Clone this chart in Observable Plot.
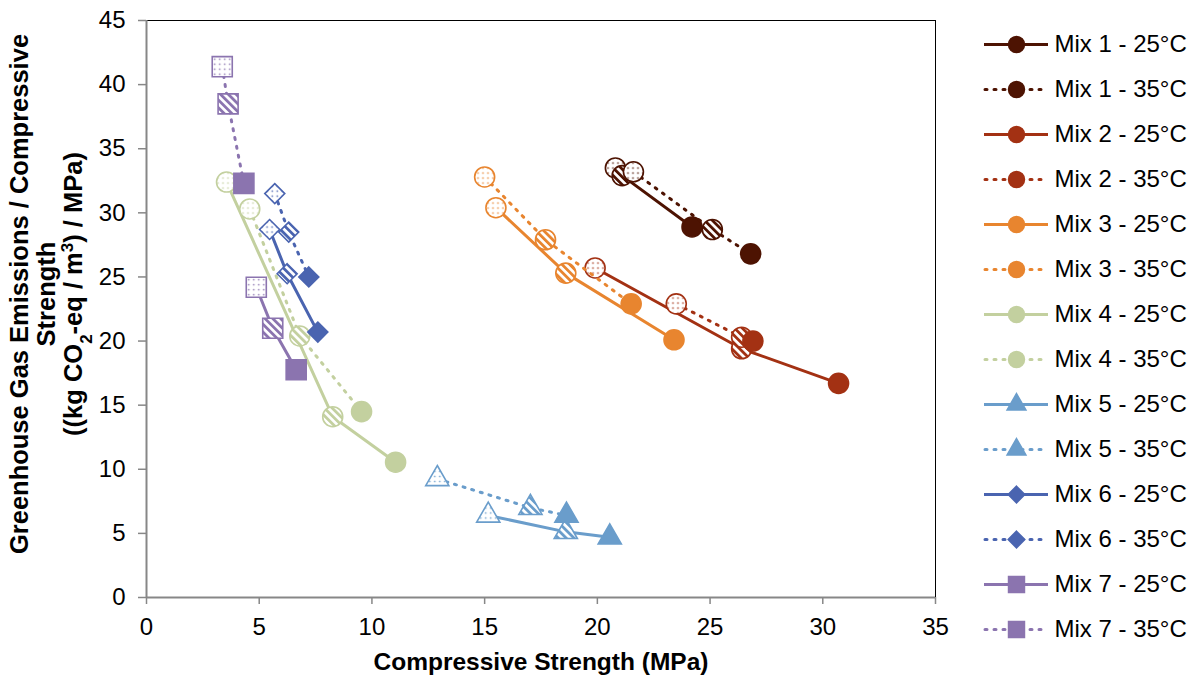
<!DOCTYPE html>
<html><head><meta charset="utf-8">
<script src="https://cdn.jsdelivr.net/npm/d3@7"></script>
<script src="https://cdn.jsdelivr.net/npm/@observablehq/plot@0.6"></script>
<style>
body{margin:0;background:#fff;}
#wrap{position:relative;width:1199px;height:679px;background:#fff;}
#wrap svg{position:absolute;top:0;}
</style></head><body><div id="wrap"></div>
<script>
// ---- data ----
const seriesNames = [
  "Mix 1 - 25°C","Mix 1 - 35°C","Mix 2 - 25°C","Mix 2 - 35°C",
  "Mix 3 - 25°C","Mix 3 - 35°C","Mix 4 - 25°C","Mix 4 - 35°C",
  "Mix 5 - 25°C","Mix 5 - 35°C","Mix 6 - 25°C","Mix 6 - 35°C",
  "Mix 7 - 25°C","Mix 7 - 35°C"
];
// compressive strength (MPa), three ages per series
const strengthMPa = [
  [20.8, 21.1, 24.2], [21.6, 25.1, 26.8],
  [19.9, 26.4, 30.7], [23.5, 26.4, 26.9],
  [15.5, 18.6, 23.4], [15.0, 17.7, 21.5],
  [3.55, 8.26, 11.05], [4.58, 6.8, 9.54],
  [15.16, 18.6, 20.55], [12.9, 17.03, 18.63],
  [5.46, 6.24, 7.6], [5.69, 6.31, 7.2],
  [4.87, 5.6, 6.64], [3.36, 3.62, 4.32]
];
// GHG emissions / compressive strength
const ghgPerMPa = [
  [33.5, 32.9, 28.9], [33.2, 28.7, 26.8],
  [25.7, 19.4, 16.7], [22.9, 20.3, 20.0],
  [30.4, 25.3, 20.1], [32.8, 27.9, 22.9],
  [32.4, 14.1, 10.55], [30.3, 20.4, 14.5],
  [6.4, 5.12, 4.7], [9.25, 7.0, 6.4],
  [28.7, 25.25, 20.7], [31.5, 28.5, 25.0],
  [24.2, 21.0, 17.76], [41.4, 38.5, 32.3]
];
const xTicks = [0, 5, 10, 15, 20, 25, 30, 35];
const yTicks = [0, 5, 10, 15, 20, 25, 30, 35, 40, 45];

// ---- styles ----
const mixColors = ["#4D1302","#A33113","#E8852F","#C3D09F","#6A9DCB","#4A64B0","#8B74AF"];
const mixSymbols = ["circle","circle","circle","circle","triangle","diamond2","square"];
const mixR = [10, 10, 10, 10, 8.6, 9, 11.3];
const legendR = [8, 8, 8, 8, 7, 7.5, 9];
const FONT = "'Liberation Sans', Arial, sans-serif";
const DASH = "2 7";

const points = seriesNames.flatMap((name, s) =>
  strengthMPa[s].map((x, k) => ({series: name, s, mix: Math.floor(s / 2), temp: s % 2, k, x, y: ghgPerMPa[s][k]}))
);
const fillFor = d => d.k === 0 ? `url(#dots-${d.mix})` : d.k === 1 ? `url(#stripes-${d.mix})` : mixColors[d.mix];

const seriesMarks = seriesNames.flatMap((name, s) => {
  const mix = Math.floor(s / 2), temp = s % 2;
  const data = points.filter(d => d.s === s);
  return [
    Plot.line(data, {x: "x", y: "y", stroke: mixColors[mix], strokeWidth: 3,
      strokeDasharray: temp ? DASH : null, strokeLinecap: temp ? "round" : "butt"}),
    Plot.dot(data, {x: "x", y: "y", symbol: mixSymbols[mix], r: mixR[mix],
      fill: fillFor, stroke: mixColors[mix], strokeWidth: 1.6})
  ];
});

const chart = Plot.plot({
  width: 1199, height: 679,
  marginLeft: 146, marginRight: 264, marginTop: 20, marginBottom: 82,
  style: {fontFamily: FONT, fontSize: "24px", color: "#000", background: "transparent"},
  x: {domain: [0, 35]},
  y: {domain: [0, 45]},
  color: {type: "identity"},
  marks: [
    Plot.frame({stroke: "#000", strokeWidth: 1}),
    Plot.axisX({ticks: xTicks, tickSize: 7, tickPadding: 13, fontSize: 24, stroke: "#878787", strokeWidth: 1.5, label: null}),
    Plot.axisY({ticks: yTicks, tickSize: 8, tickPadding: 13, fontSize: 24, stroke: "#878787", strokeWidth: 1.5, label: null}),
    Plot.ruleX([0], {stroke: "#878787", strokeWidth: 2}),
    Plot.ruleY([0], {stroke: "#878787", strokeWidth: 2}),
    ...seriesMarks,
    Plot.text(["Compressive Strength (MPa)"], {frameAnchor: "bottom", dy: 72, fontSize: 24.5, fontWeight: "bold", fill: "#000"})
  ]
});
chart.style.left = "0px";
document.getElementById("wrap").appendChild(chart);

// patterns
const defs = d3.select(chart).insert("defs", ":first-child");
mixColors.forEach((c, i) => {
  const pd = defs.append("pattern").attr("id", `dots-${i}`).attr("patternUnits", "userSpaceOnUse")
    .attr("width", 5).attr("height", 5);
  pd.append("rect").attr("width", 5).attr("height", 5).attr("fill", "#fff");
  pd.append("circle").attr("cx", 2.5).attr("cy", 2.5).attr("r", 0.85).attr("fill", c);
  const ps = defs.append("pattern").attr("id", `stripes-${i}`).attr("patternUnits", "userSpaceOnUse")
    .attr("width", 5.5).attr("height", 5.5).attr("patternTransform", "rotate(-45)");
  ps.append("rect").attr("width", 5.5).attr("height", 5.5).attr("fill", "#fff");
  ps.append("rect").attr("width", 2.8).attr("height", 5.5).attr("fill", c);
});

// y-axis title (3 lines, with sub/superscripts)
const yt = d3.select(chart).append("text")
  .attr("transform", "translate(0,294) rotate(-90)")
  .attr("text-anchor", "middle").attr("font-weight", "bold").attr("font-size", 25.5)
  .attr("font-family", FONT).attr("fill", "#000");
yt.append("tspan").attr("x", 0).attr("y", 27.5).text("Greenhouse Gas Emissions / Compressive");
yt.append("tspan").attr("x", 0).attr("y", 54.5).text("Strength");
const l3 = yt.append("tspan").attr("x", 0).attr("y", 81.5);
l3.append("tspan").text("((kg CO");
l3.append("tspan").attr("baseline-shift", "sub").attr("font-size", 17).text("2");
l3.append("tspan").text("-eq / m");
l3.append("tspan").attr("baseline-shift", "super").attr("font-size", 17).text("3");
l3.append("tspan").text(") / MPa)");

// ---- legend ----
const legendRows = seriesNames.map((name, s) => ({series: name, s, mix: Math.floor(s / 2), temp: s % 2}));
const legend = Plot.plot({
  width: 239, height: 679, margin: 0,
  style: {fontFamily: FONT, color: "#000", background: "transparent"},
  x: {domain: [0, 239], range: [0, 239], axis: null},
  y: {type: "point", domain: seriesNames, range: [40, 632], padding: 0, axis: null},
  color: {type: "identity"},
  marks: [
    Plot.ruleY(legendRows.filter(d => !d.temp), {y: "series", x1: 24, x2: 88, stroke: d => mixColors[d.mix], strokeWidth: 3}),
    Plot.ruleY(legendRows.filter(d => d.temp), {y: "series", x1: 25, x2: 88, stroke: d => mixColors[d.mix], strokeWidth: 3, strokeDasharray: DASH, strokeLinecap: "round"}),
    ...mixColors.map((c, m) => Plot.dot(legendRows.filter(d => d.mix === m), {x: () => 56, y: "series", symbol: mixSymbols[m], r: legendR[m], fill: c, stroke: c})),
    Plot.text(legendRows, {x: () => 94, y: "series", text: "series", textAnchor: "start", fontSize: 24, fill: "#000"})
  ]
});
legend.style.left = "960px";
document.getElementById("wrap").appendChild(legend);
</script>
</body></html>
